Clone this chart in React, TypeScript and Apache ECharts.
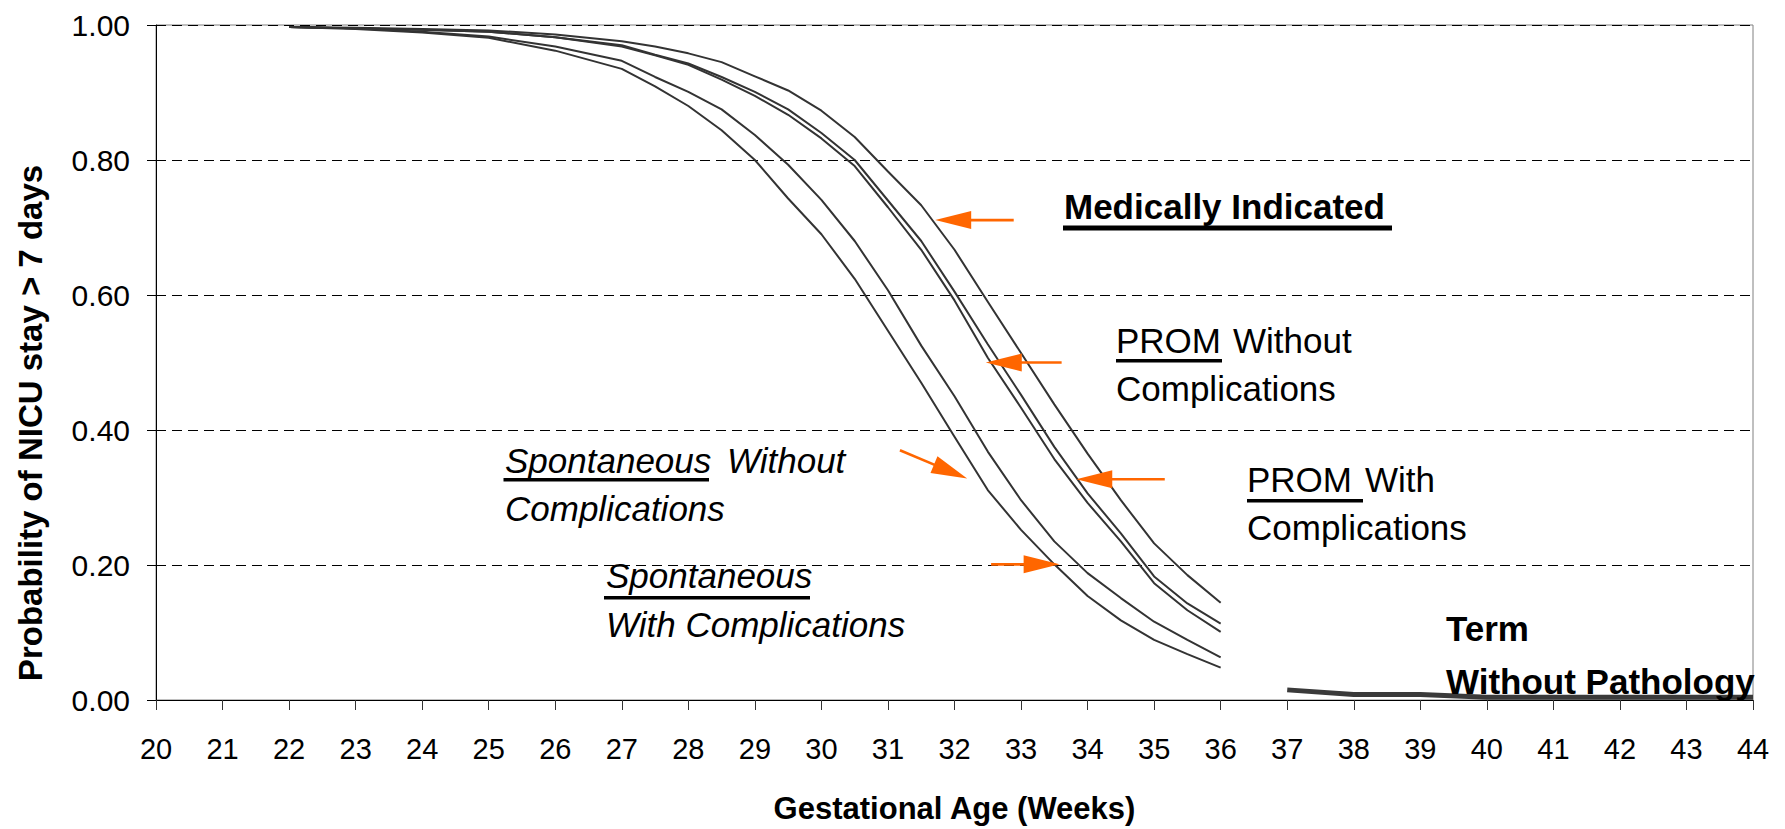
import React, { useEffect, useRef } from "react";
import * as echarts from "echarts";

// Gestational age (weeks) at which the preterm curves are sampled
const weeks = [22, 23, 24, 25, 26, 27, 27.5, 28, 28.5, 29, 29.5, 30, 30.5, 31, 31.5, 32, 32.5, 33, 33.5, 34, 34.5, 35, 35.5, 36];

// Probability of NICU stay > 7 days
const medicallyIndicated = [0.997, 0.996, 0.994, 0.992, 0.986, 0.976, 0.968, 0.958, 0.945, 0.924, 0.903, 0.873, 0.834, 0.783, 0.733, 0.667, 0.59, 0.514, 0.438, 0.365, 0.296, 0.232, 0.185, 0.144];
const promWithoutComplications = [0.997, 0.995, 0.993, 0.99, 0.982, 0.97, 0.956, 0.943, 0.923, 0.901, 0.875, 0.84, 0.8, 0.74, 0.68, 0.605, 0.527, 0.452, 0.375, 0.306, 0.247, 0.183, 0.143, 0.113];
const promWithComplications = [0.997, 0.995, 0.993, 0.99, 0.982, 0.968, 0.955, 0.941, 0.919, 0.895, 0.867, 0.832, 0.791, 0.73, 0.667, 0.592, 0.507, 0.433, 0.357, 0.292, 0.235, 0.173, 0.133, 0.101];
const spontaneousWithoutComplications = [0.997, 0.995, 0.99, 0.983, 0.968, 0.947, 0.923, 0.901, 0.875, 0.837, 0.793, 0.741, 0.68, 0.607, 0.525, 0.45, 0.368, 0.296, 0.235, 0.188, 0.151, 0.116, 0.089, 0.063];
const spontaneousWithComplications = [0.997, 0.994, 0.989, 0.981, 0.962, 0.935, 0.909, 0.88, 0.844, 0.8, 0.743, 0.69, 0.624, 0.547, 0.47, 0.39, 0.311, 0.252, 0.201, 0.154, 0.118, 0.089, 0.068, 0.048];

const termWeeks = [37, 38, 39, 40, 41, 42, 43, 44];
const termWithoutPathology = [0.015, 0.008, 0.008, 0.004, 0.004, 0.004, 0.004, 0.004];

// Axis ranges / ticks
const xMin = 20;
const xMax = 44;
const xStep = 1;
const yMin = 0;
const yMax = 1;
const yStep = 0.2;

// Annotation arrows: [tailWeek, tailProb, tipWeek, tipProb]
const arrows = [
  [32.89, 0.711, 31.71, 0.711],
  [33.61, 0.5, 32.47, 0.5],
  [35.16, 0.327, 33.83, 0.327],
  [31.18, 0.37, 32.19, 0.328],
  [32.55, 0.201, 33.58, 0.201],
];

const FONT = "'Liberation Sans', Arial, Helvetica, sans-serif";
const ORANGE = "#FF6600";
const LINE = "#333333";

function pairs(xs: number[], ys: number[]) {
  return xs.map((x, i) => [x, ys[i]]);
}

function txt(text: string, x: number, y: number, opts: any = {}) {
  return {
    type: "text",
    x,
    y,
    z: 100,
    silent: true,
    style: {
      text,
      fill: "#000",
      fontFamily: FONT,
      fontSize: opts.fontSize || 35,
      fontWeight: opts.fontWeight || "normal",
      fontStyle: opts.fontStyle || "normal",
      align: "left",
      verticalAlign: "middle",
    },
  };
}

function bar(x: number, y: number, w: number, h: number) {
  return { type: "rect", z: 100, silent: true, shape: { x, y, width: w, height: h }, style: { fill: "#000" } };
}

export default function App() {
  const ref = useRef<HTMLDivElement>(null);

  useEffect(() => {
    if (!ref.current) return;
    const chart = echarts.init(ref.current, undefined, { renderer: "svg" });

    const lineSeries = (name: string, data: number[]) => ({
      name,
      type: "line",
      data: pairs(weeks, data),
      showSymbol: false,
      symbol: "none",
      lineStyle: { color: LINE, width: 2 },
      z: 3,
    });

    const option: any = {
      animation: false,
      backgroundColor: "#fff",
      grid: { left: 156, right: 32, top: 25, bottom: 129, show: true, borderColor: "#808080", borderWidth: 1 },
      xAxis: {
        type: "value",
        min: xMin,
        max: xMax,
        interval: xStep,
        axisLine: { show: true, onZero: false, lineStyle: { color: "#000", width: 1 } },
        axisTick: { show: true, length: 10, lineStyle: { color: "#333" } },
        axisLabel: { margin: 34, fontSize: 29, color: "#000", fontFamily: FONT },
        splitLine: { show: false },
        name: "Gestational Age (Weeks)",
        nameLocation: "middle",
        nameGap: 93,
        nameTextStyle: { fontSize: 31, fontWeight: "bold", color: "#000", fontFamily: FONT },
      },
      yAxis: {
        type: "value",
        min: yMin,
        max: yMax,
        interval: yStep,
        axisLine: { show: true, lineStyle: { color: "#000", width: 1 } },
        axisTick: { show: true, length: 9, lineStyle: { color: "#000" } },
        axisLabel: {
          margin: 26,
          fontSize: 30,
          color: "#000",
          fontFamily: FONT,
          formatter: (v: number) => v.toFixed(2),
        },
        splitLine: { show: true, lineStyle: { type: [10, 6], color: "#000", width: 1 } },
      },
      series: [
        lineSeries("Medically Indicated", medicallyIndicated),
        lineSeries("PROM Without Complications", promWithoutComplications),
        lineSeries("PROM With Complications", promWithComplications),
        lineSeries("Spontaneous Without Complications", spontaneousWithoutComplications),
        lineSeries("Spontaneous With Complications", spontaneousWithComplications),
        {
          name: "Term Without Pathology",
          type: "line",
          data: pairs(termWeeks, termWithoutPathology),
          showSymbol: false,
          symbol: "none",
          lineStyle: { color: "#3a3a3a", width: 5 },
          z: 4,
        },
        {
          name: "arrows",
          type: "custom",
          data: arrows,
          encode: { x: [0, 2], y: [1, 3] },
          clip: false,
          silent: true,
          z: 10,
          renderItem: (_params: any, api: any) => {
            const a = api.coord([api.value(0), api.value(1)]);
            const b = api.coord([api.value(2), api.value(3)]);
            const dx = b[0] - a[0];
            const dy = b[1] - a[1];
            const len = Math.hypot(dx, dy) || 1;
            const ux = dx / len;
            const uy = dy / len;
            const hl = 36;
            const hw = 9;
            const bx = b[0] - ux * hl;
            const by = b[1] - uy * hl;
            const px = -uy;
            const py = ux;
            return {
              type: "group",
              children: [
                {
                  type: "line",
                  shape: { x1: a[0], y1: a[1], x2: bx + ux * 4, y2: by + uy * 4 },
                  style: { stroke: ORANGE, lineWidth: 2.6 },
                },
                {
                  type: "polygon",
                  shape: { points: [[b[0], b[1]], [bx + px * hw, by + py * hw], [bx - px * hw, by - py * hw]] },
                  style: { fill: ORANGE },
                },
              ],
            };
          },
        },
      ],
      graphic: [
        {
          type: "text",
          x: 30,
          y: 423,
          rotation: Math.PI / 2,
          silent: true,
          style: {
            text: "Probability of NICU stay > 7 days",
            fill: "#000",
            fontFamily: FONT,
            fontSize: 33,
            fontWeight: "bold",
            align: "center",
            verticalAlign: "middle",
          },
        },
        txt("Medically Indicated", 1064, 206, { fontWeight: "bold", fontSize: 35 }),
        bar(1063, 225.5, 329, 5),
        txt("PROM", 1116, 340),
        txt("Without", 1233, 340),
        bar(1116, 359, 106, 3.5),
        txt("Complications", 1116, 388),
        txt("PROM", 1247, 479),
        txt("With", 1365, 479),
        bar(1247, 499, 116, 3.5),
        txt("Complications", 1247, 527.5),
        txt("Spontaneous", 505, 460, { fontStyle: "italic" }),
        txt("Without", 727, 460, { fontStyle: "italic" }),
        bar(503.5, 478, 205.5, 3.5),
        txt("Complications", 505, 508, { fontStyle: "italic" }),
        txt("Spontaneous", 606, 575, { fontStyle: "italic" }),
        bar(604, 596, 206, 3.5),
        txt("With Complications", 606, 624.5, { fontStyle: "italic" }),
        txt("Term", 1446, 628, { fontWeight: "bold" }),
        txt("Without Pathology", 1446, 681, { fontWeight: "bold" }),
      ],
    };

    chart.setOption(option);
    return () => chart.dispose();
  }, []);

  return (
    <div
      ref={ref}
      style={{ position: "fixed", left: 0, top: 0, width: 1785, height: 829, background: "#fff" }}
    />
  );
}
